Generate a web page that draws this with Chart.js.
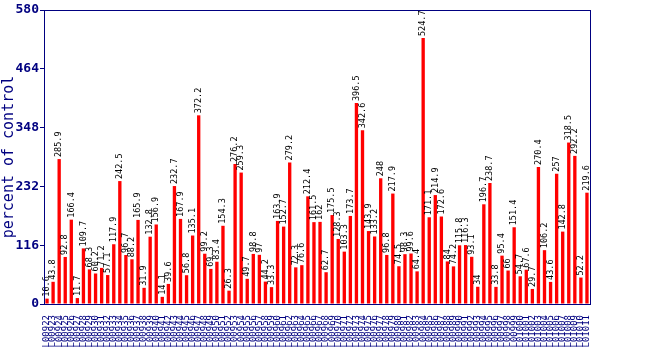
<!DOCTYPE html>
<html>
<head>
<meta charset="utf-8">
<script src="https://cdn.jsdelivr.net/npm/chart.js@4/dist/chart.umd.min.js"></script>
<style>
html,body{margin:0;padding:0;background:#fff;}
#wrap{width:650px;height:350px;position:relative;}
</style>
</head>
<body>
<div id="wrap"><canvas id="c" width="650" height="350"></canvas></div>
<script>
const values = [10.6,43.8,285.9,92.8,166.4,11.7,109.7,68.3,60.2,71.2,
57.1,117.9,242.5,96.7,88.2,165.9,31.9,132.8,156.9,14.1,
39.6,232.7,167.9,56.8,135.1,372.2,99.2,69.3,83.4,154.3,
26.3,276.2,259.3,49.7,98.8,97,44.2,33.3,163.9,152.7,
279.2,72.3,76.6,212.4,161.5,162,62.7,175.5,128.3,103.3,
173.7,396.5,342.6,143.9,133.2,248,96.8,217.9,74.5,98.3,
99.6,64.4,524.7,171.1,214.9,172.6,84,74.2,115.8,116.3,
93.1,34,196.7,238.7,33.8,95.4,66,151.4,54.7,67.6,
29.7,270.4,106.2,43.6,257,142.8,318.5,292.2,52.2,219.6];
const categories = [
"L00922","L00923","L00924","L00925","L00926","L00927","L00928","L00929","L00930","L00931",
"L00932","L00933","L00934","L00935","L00936","L00937","L00938","L00939","L00940","L00941",
"L00942","L00943","L00944","L00945","L00946","L00947","L00948","L00949","L00950","L00951",
"L00952","L00953","L00954","L00955","L00956","L00957","L00958","L00959","L00960","L00961",
"L00962","L00963","L00964","L00965","L00966","L00967","L00968","L00969","L00970","L00971",
"L00972","L00973","L00974","L00975","L00976","L00977","L00978","L00979","L00980","L00981",
"L00982","L00983","L00984","L00985","L00986","L00987","L00988","L00989","L00990","L00991",
"L00992","L00993","L00994","L00995","L00996","L00997","L00998","L00999","L01000","L01001",
"L01002","L01003","L01004","L01005","L01006","L01007","L01008","L01009","L01010","L01011"];
const yTicks = [0,116,232,348,464,580];
const yTitle = "percent of control";

const NAVY = "#000080";

const valueLabels = {
  id: "valueLabels",
  afterDatasetsDraw(chart) {
    const ctx = chart.ctx;
    const meta = chart.getDatasetMeta(0);
    ctx.save();
    ctx.fillStyle = "#000";
    ctx.font = "8.5px 'DejaVu Sans Mono'";
    ctx.textAlign = "left";
    ctx.textBaseline = "middle";
    meta.data.forEach((bar, i) => {
      ctx.save();
      ctx.translate(bar.x, bar.y - 2);
      ctx.rotate(-Math.PI / 2);
      ctx.fillText(String(values[i]), 0, 0);
      ctx.restore();
    });
    ctx.restore();
  }
};
const frame = {
  id: "frame",
  afterDraw(chart) {
    const a = chart.chartArea, ctx = chart.ctx;
    ctx.save();
    ctx.strokeStyle = NAVY;
    ctx.lineWidth = 1;
    ctx.strokeRect(Math.round(a.left) + 0.5, Math.round(a.top) + 0.5,
      Math.round(a.right - a.left), Math.round(a.bottom - a.top));
    ctx.restore();
  }
};

new Chart(document.getElementById("c"), {
  type: "bar",
  data: {
    labels: categories,
    datasets: [{
      data: values,
      backgroundColor: "#ff0000",
      borderWidth: 0,
      barPercentage: 0.55,
      categoryPercentage: 1.0
    }]
  },
  options: {
    responsive: false,
    animation: false,
    devicePixelRatio: 1,
    layout: { padding: { left: 0, right: 60, top: 10, bottom: 0 } },
    plugins: { legend: { display: false }, tooltip: { enabled: false } },
    scales: {
      x: {
        offset: true,
        grid: { display: false },
        border: { display: false },
        ticks: {
          autoSkip: false, minRotation: 90, maxRotation: 90,
          color: NAVY, font: { family: "DejaVu Sans Mono", size: 9 }, padding: 3
        },
        afterFit(s) { s.height = 46; }
      },
      y: {
        min: 0, max: 580,
        afterBuildTicks(s) { s.ticks = yTicks.map(v => ({ value: v })); },
        grid: { drawOnChartArea: false, tickLength: 4, color: NAVY },
        border: { display: false },
        ticks: {
          color: NAVY, padding: 1,
          font: { family: "DejaVu Sans Mono", size: 13, weight: "bold" }
        },
        title: {
          display: true, text: yTitle, color: NAVY,
          font: { family: "DejaVu Sans Mono", size: 15 }, padding: { top: 0, bottom: 0 }
        },
        afterFit(s) { s.width = 44; }
      }
    }
  },
  plugins: [valueLabels, frame]
});
</script>
</body>
</html>
